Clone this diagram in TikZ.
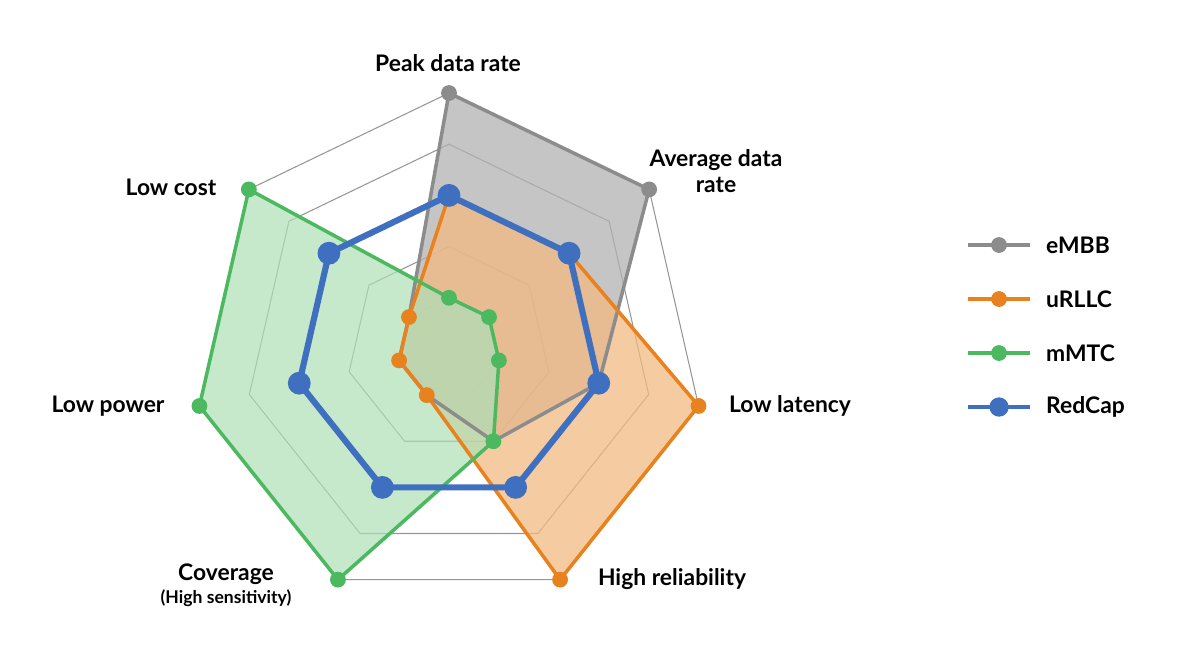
\documentclass[tikz,border=0pt]{standalone}
\usepackage{fontspec}
\setmainfont{Lato}
\usetikzlibrary{positioning,calc}
\definecolor{embbgray}{RGB}{140,140,140}
\definecolor{urllcorange}{RGB}{232,130,30}
\definecolor{mmtcgreen}{RGB}{76,184,96}
\definecolor{redcapblue}{RGB}{63,111,191}
\definecolor{gridgray}{RGB}{150,150,150}

% point on axis #1 (0..6) at level #2 (0..5)
\newcommand{\radpt}[2]{({449+51.2*#2*sin(#1*360/7)},{349-51.2*#2*cos(#1*360/7)})}

\begin{document}
\begin{tikzpicture}[
    x=0.02cm, y=-0.02cm,
    axislabel/.style={font=\bfseries\fontsize{13}{15}\selectfont, align=center},
    legtext/.style={font=\bfseries\fontsize{13}{15}\selectfont, anchor=west},
    series/.style={line width=#1, line join=round},
    dot/.style={circle, inner sep=0pt, minimum size=#1}
]
    \useasboundingbox (0,0) rectangle (1200,667);
    % grid
    \foreach \l in {1,...,5}
        \draw[gridgray, line width=0.6pt] \radpt{0}{\l} -- \radpt{1}{\l} -- \radpt{2}{\l} -- \radpt{3}{\l} -- \radpt{4}{\l} -- \radpt{5}{\l} -- \radpt{6}{\l} -- cycle;
    % fills
    \fill[gray!60, opacity=0.75] \radpt{0}{5} -- \radpt{1}{5} -- \radpt{2}{3} -- \radpt{3}{2} -- \radpt{4}{1} -- \radpt{5}{1} -- \radpt{6}{1} -- cycle;
    \fill[urllcorange!55, opacity=0.75] \radpt{0}{3} -- \radpt{1}{3} -- \radpt{2}{5} -- \radpt{3}{5} -- \radpt{4}{1} -- \radpt{5}{1} -- \radpt{6}{1} -- cycle;
    \fill[mmtcgreen!45, opacity=0.7] \radpt{0}{1} -- \radpt{1}{1} -- \radpt{2}{1} -- \radpt{3}{2} -- \radpt{4}{5} -- \radpt{5}{5} -- \radpt{6}{5} -- cycle;
    % outlines
    \draw[embbgray, series=2pt] \radpt{0}{5} -- \radpt{1}{5} -- \radpt{2}{3} -- \radpt{3}{2} -- \radpt{4}{1} -- \radpt{5}{1} -- \radpt{6}{1} -- cycle;
    \draw[urllcorange, series=2pt] \radpt{0}{3} -- \radpt{1}{3} -- \radpt{2}{5} -- \radpt{3}{5} -- \radpt{4}{1} -- \radpt{5}{1} -- \radpt{6}{1} -- cycle;
    \draw[mmtcgreen, series=2pt] \radpt{0}{1} -- \radpt{1}{1} -- \radpt{2}{1} -- \radpt{3}{2} -- \radpt{4}{5} -- \radpt{5}{5} -- \radpt{6}{5} -- cycle;
    \draw[redcapblue, series=3.5pt] \radpt{0}{3} -- \radpt{1}{3} -- \radpt{2}{3} -- \radpt{3}{3} -- \radpt{4}{3} -- \radpt{5}{3} -- \radpt{6}{3} -- cycle;
    % markers
    \node[dot=9pt, fill=embbgray] (e0) at \radpt{0}{5} {};
    \node[dot=9pt, fill=embbgray] (e1) at \radpt{1}{5} {};
    \foreach \a/\v in {0/3,1/3,2/5,3/5,4/1,5/1,6/1}
        \node[dot=9pt, fill=urllcorange] (u\a) at \radpt{\a}{\v} {};
    \foreach \a/\v in {0/1,1/1,2/1,3/2,4/5,5/5,6/5}
        \node[dot=9pt, fill=mmtcgreen] (m\a) at \radpt{\a}{\v} {};
    \foreach \a in {0,...,6}
        \node[dot=13pt, fill=redcapblue] (r\a) at \radpt{\a}{3} {};
    % axis labels
    \node[axislabel] (lpeak) at (448,63) {Peak data rate};
    \node[axislabel] (lavg) at (716,171) {Average data\\rate};
    \node[axislabel] (llat) at (790,406) {Low latency};
    \node[axislabel] (lrel) at (672,579) {High reliability};
    \node[axislabel, align=center] (lcov) at (226,585) {Coverage\\[-2pt]{\fontsize{10}{12}\selectfont(High sensitivity)}};
    \node[axislabel] (lpow) at (108,406) {Low power};
    \node[axislabel] (lcost) at (171,187) {Low cost};
    % legend
    \foreach \c/\t/\y/\s in {embbgray/eMBB/245/9pt, urllcorange/uRLLC/299/9pt, mmtcgreen/mMTC/353/9pt, redcapblue/RedCap/407/11pt} {
        \coordinate (a\t) at (968,\y);
        \coordinate (b\t) at (1030,\y);
        \draw[\c, line width=2.5pt] (a\t) -- (b\t);
        \node[dot=\s, fill=\c] (k\t) at ($(a\t)!0.5!(b\t)$) {};
        \node[legtext] (t\t) at (1040,\y) {\t};
    }
\end{tikzpicture}
\end{document}
